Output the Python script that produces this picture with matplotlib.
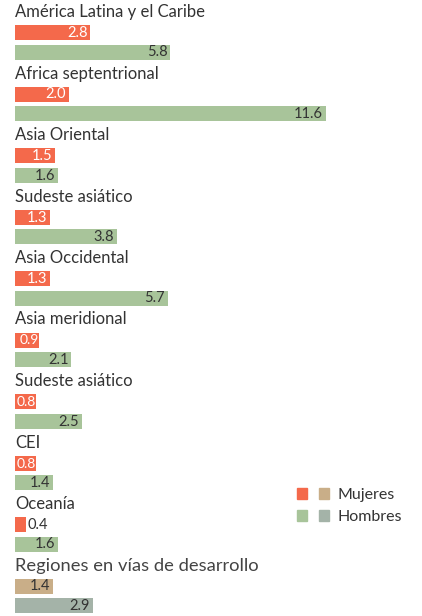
import matplotlib
matplotlib.use("Agg")
import matplotlib.pyplot as plt
from matplotlib.patches import Patch
from matplotlib.legend_handler import HandlerTuple

regiones = ["América Latina y el Caribe", "Africa septentrional", "Asia Oriental",
            "Sudeste asiático", "Asia Occidental", "Asia meridional",
            "Sudeste asiático", "CEI", "Oceanía", "Regiones en vías de desarrollo"]
mujeres = [2.8, 2.0, 1.5, 1.3, 1.3, 0.9, 0.8, 0.8, 0.4, 1.4]
hombres = [5.8, 11.6, 1.6, 3.8, 5.7, 2.1, 2.5, 1.4, 1.6, 2.9]

rojo, verde = "#f4694b", "#a8c49a"
beige, gris = "#c9ae88", "#a4b3a8"
texto = "#333333"

plt.rcParams["font.family"] = ["Lato", "DejaVu Sans"]

fig = plt.figure(figsize=(4.22, 6.16), dpi=100)
ax = fig.add_axes([0, 0, 1, 1])
ax.set_xlim(-15 / 26.8, (422 - 15) / 26.8)
ax.set_ylim(616, 0)
ax.axis("off")

paso = 61.5
for i, (reg, m, h) in enumerate(zip(regiones, mujeres, hombres)):
    total = i == len(regiones) - 1
    y0 = i * paso
    c_m, c_h = (beige, gris) if total else (rojo, verde)
    ax.text(0, y0 + 12, reg, fontsize=13.2 if total else 12,
            color="#444444" if total else texto, va="center", ha="left")
    ax.barh(y0 + 32.5, m, height=15, left=0, color=c_m)
    ax.barh(y0 + 52, h, height=15, left=0, color=c_h)
    col_m = texto if total else "white"
    if m < 0.5:
        ax.text(m + 0.05, y0 + 33, f"{m:.1f}", fontsize=10.5, color=texto,
                va="center", ha="left")
    else:
        pad = 0.02 if m < 1 else 0.1
        ax.text(m - pad, y0 + 33, f"{m:.1f}", fontsize=10.5 if m >= 1 else 10,
                color=col_m, va="center", ha="right")
    ax.text(h - 0.1, y0 + 52.5, f"{h:.1f}", fontsize=10.5, color=texto,
            va="center", ha="right")

handles = [(Patch(color=rojo), Patch(color=beige)),
           (Patch(color=verde), Patch(color=gris))]
ax.legend(handles, ["Mujeres", "Hombres"], loc="upper left",
          bbox_to_anchor=(283 / 422, 1 - 474 / 616), frameon=False,
          handler_map={tuple: HandlerTuple(ndivide=None, pad=0.7)},
          handlelength=1.95, handleheight=0.65, handletextpad=0.56,
          labelspacing=0.5, fontsize=11.5, labelcolor=texto)

fig.savefig("out.png", dpi=100)
